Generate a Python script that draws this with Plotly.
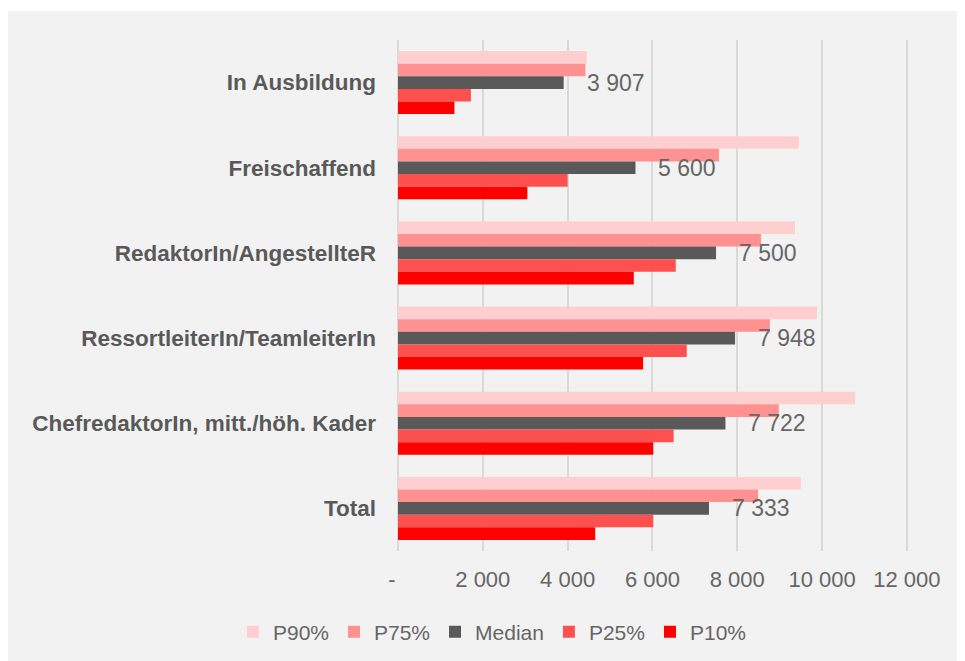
import plotly.graph_objects as go

categories = ["In Ausbildung", "Freischaffend", "RedaktorIn/AngestellteR",
              "RessortleiterIn/TeamleiterIn", "ChefredaktorIn, mitt./höh. Kader", "Total"]
series_names = ["P90%", "P75%", "Median", "P25%", "P10%"]
p90 = [4450, 9450, 9360, 9880, 10780, 9500]
p75 = [4420, 7570, 8560, 8770, 8980, 8490]
median = [3907, 5600, 7500, 7948, 7722, 7333]
p25 = [1720, 4000, 6550, 6810, 6500, 6020]
p10 = [1330, 3050, 5560, 5780, 6020, 4650]
colors = ["#ffcfcf", "#ff9191", "#595959", "#ff5050", "#ff0000"]
tick_vals = [0, 2000, 4000, 6000, 8000, 10000, 12000]
tick_text = ["-  ", "2 000", "4 000", "6 000", "8 000", "10 000", "12 000"]

FONT = "Liberation Sans, Arial, sans-serif"
TXT = "#666666"

fig = go.Figure()
for name, vals, col in zip(series_names, [p90, p75, median, p25, p10], colors):
    fig.add_trace(go.Bar(
        y=categories, x=vals, name=name, orientation="h",
        marker=dict(color=col, line=dict(width=0)),
        hoverinfo="x+name",
    ))

for cat, v in zip(categories, median):
    fig.add_annotation(
        x=v, y=cat, xref="x", yref="y",
        text=f"{v:,}".replace(",", " "),
        showarrow=False, xanchor="left", yanchor="middle", xshift=21,
        font=dict(family=FONT, size=23, color=TXT),
    )

# thin white strip above the grey panel
fig.add_shape(type="rect", xref="paper", yref="paper",
              x0=-1, x1=2, y0=(543 - 3) / 511, y1=1.2,
              fillcolor="white", line=dict(width=0), layer="below")

fig.update_layout(
    width=965, height=661,
    margin=dict(l=390, r=64, t=32, b=118),
    paper_bgcolor="#f2f2f2",
    plot_bgcolor="rgba(0,0,0,0)",
    barmode="group", bargap=0.26, bargroupgap=0,
    font=dict(family=FONT, size=22, color=TXT),
    showlegend=True,
    legend=dict(orientation="h", xref="paper", yref="paper",
                x=-0.323, xanchor="left", y=-0.1585, yanchor="middle",
                font=dict(family=FONT, size=21, color=TXT), traceorder="normal",
                bgcolor="rgba(0,0,0,0)", itemwidth=30),
    xaxis=dict(range=[0, 12050], tickvals=tick_vals, ticktext=tick_text,
               showgrid=True, gridcolor="#d9d9d9", gridwidth=1.5,
               zeroline=True, zerolinecolor="#d9d9d9", zerolinewidth=1.5,
               showline=False, ticks="", ticklabelstandoff=13,
               tickfont=dict(family=FONT, size=22, color=TXT), fixedrange=True),
    yaxis=dict(autorange="reversed", showgrid=False, showline=False, ticks="",
               ticklabelstandoff=21,
               tickfont=dict(family=FONT, size=22.5, color="#595959", weight="bold"),
               fixedrange=True),
)

fig.write_html("out.html")
